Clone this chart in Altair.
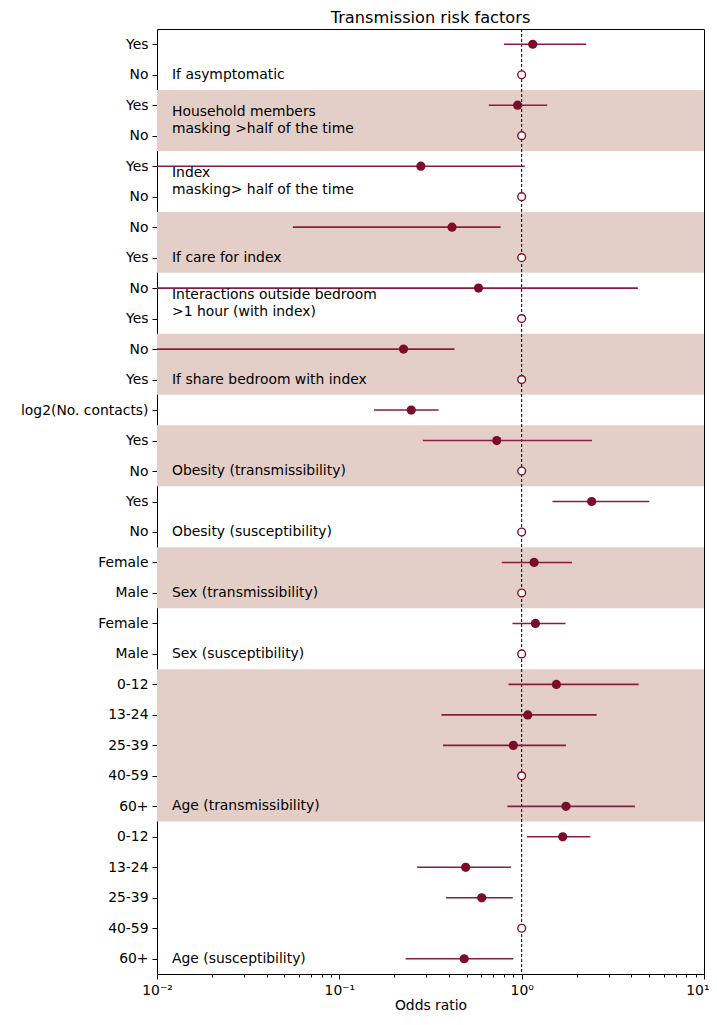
import altair as alt
import pandas as pd

# ---- data ----
row_labels = ["Yes", "No", "Yes", "No", "Yes", "No", "No", "Yes", "No", "Yes",
              "No", "Yes", "log2(No. contacts)", "Yes", "No", "Yes", "No",
              "Female", "Male", "Female", "Male",
              "0-12", "13-24", "25-39", "40-59", "60+",
              "0-12", "13-24", "25-39", "40-59", "60+"]
is_ref = [0, 1, 0, 1, 0, 1, 0, 1, 0, 1, 0, 1, 0, 0, 1, 0, 1, 0, 1, 0, 1,
          0, 0, 0, 1, 0, 0, 0, 0, 1, 0]
or_est = [1.15, 1.0, 0.95, 1.0, 0.28, 1.0, 0.415, 1.0, 0.58, 1.0,
          0.225, 1.0, 0.248, 0.73, 1.0, 2.42, 1.0, 1.17, 1.0, 1.19, 1.0,
          1.55, 1.08, 0.90, 1.0, 1.75, 1.68, 0.493, 0.604, 1.0, 0.484]
ci_low = [0.80, None, 0.66, None, 0.003, None, 0.0556, None, 0.003, None,
          0.003, None, 0.155, 0.287, None, 1.475, None, 0.778, None, 0.89, None,
          0.848, 0.363, 0.37, None, 0.836, 1.07, 0.267, 0.385, None, 0.231]
ci_high = [2.26, None, 1.38, None, 1.04, None, 0.767, None, 4.34, None,
           0.428, None, 0.35, 2.43, None, 5.01, None, 1.89, None, 1.74, None,
           4.38, 2.58, 1.75, None, 4.18, 2.38, 0.875, 0.895, None, 0.90]

group_labels = ["If asymptomatic",
                "Household members\nmasking >half of the time",
                "Index\nmasking> half of the time",
                "If care for index",
                "Interactions outside bedroom\n>1 hour (with index)",
                "If share bedroom with index",
                "Obesity (transmissibility)",
                "Obesity (susceptibility)",
                "Sex (transmissibility)",
                "Sex (susceptibility)",
                "Age (transmissibility)",
                "Age (susceptibility)"]
group_first = [0, 2, 4, 6, 8, 10, 13, 15, 17, 19, 21, 26]
group_last = [1, 3, 5, 7, 9, 11, 14, 16, 18, 20, 25, 30]
group_shaded = [False, True, False, True, False, True, True, False, True, False, True, False]

x_major = [0.01, 0.1, 1, 10]
x_major_labels = ["10\u207b\u00b2", "10\u207b\u00b9", "10\u2070", "10\u00b9"]
x_ticks = [k * 10.0 ** e for e in (-2, -1, 0) for k in range(1, 10)] + [10]
x_ticks = [round(v, 6) for v in x_ticks]
x_domain = [0.01, 10]

# ---- tables ----
n = len(row_labels)
df = pd.DataFrame({"row": list(range(n)), "label": row_labels, "est": or_est,
                   "lo": ci_low, "hi": ci_high, "ref": is_ref})
ci_df = df.dropna(subset=["lo"])
filled_df = df[df.ref == 0]
open_df = df[df.ref == 1]

bands = pd.DataFrame({
    "y1": [f - 0.5 for f, s in zip(group_first, group_shaded) if s],
    "y2": [l + 0.5 for l, s in zip(group_last, group_shaded) if s],
    "x1": x_domain[0], "x2": x_domain[1]})

lab_df = pd.DataFrame({
    "text": group_labels,
    "multi": ["\n" in t for t in group_labels],
    "ypos": [l - 0.5 if "\n" in t else l for t, l in zip(group_labels, group_last)]})
lab1_df = lab_df[~lab_df.multi]
lab2_df = lab_df[lab_df.multi]

ref_df = pd.DataFrame({"x": [1.0]})

FONT = "DejaVu Sans"
DARK = "#7b0d2a"
LINE = "#8a1d3d"
BAND = "#e3cfc8"
LH = 16.7

x_scale = alt.Scale(type="log", domain=x_domain, nice=False)
y_scale = alt.Scale(domain=[-0.5, n - 0.5], reverse=True, nice=False, zero=False)

y_label_expr = "[" + ",".join("'%s'" % s for s in row_labels) + "][datum.value]"
x_label_expr = " : ".join("datum.value == %s ? '%s'" % (v, s)
                          for v, s in zip(x_major, x_major_labels)) + " : ''"
major_test = "indexof([%s], datum.value) >= 0" % ",".join(str(v) for v in x_major)
last_test = "datum.value == %s" % x_major[-1]

x_axis = alt.Axis(values=x_ticks, labelExpr=x_label_expr, title="Odds ratio",
                  grid=False, domain=False, labelFontSize=13.9, titleFontSize=13.9,
                  titleFontWeight="normal", labelFont=FONT, titleFont=FONT,
                  labelColor="black", titleColor="black", tickColor="black",
                  tickSize={"condition": {"test": major_test, "value": 5}, "value": 3},
                  labelAlign={"condition": {"test": last_test, "value": "right"}, "value": "center"},
                  labelOffset={"condition": {"test": last_test, "value": 5}, "value": 0},
                  labelPadding=4, titlePadding=2, labelFlush=False, labelOverlap=False,
                  labelBound=False)
y_axis = alt.Axis(values=list(range(n)), labelExpr=y_label_expr, title=None,
                  grid=False, domain=False, labelFontSize=13.9, labelFont=FONT,
                  labelColor="black", tickColor="black", tickSize=5, labelPadding=4,
                  labelOverlap=False, labelFlush=False, labelBound=False)

band_layer = alt.Chart(bands).mark_rect(color=BAND).encode(
    x=alt.X("x1:Q", scale=x_scale, axis=x_axis),
    x2="x2:Q",
    y=alt.Y("y1:Q", scale=y_scale, axis=y_axis),
    y2="y2:Q")

ref_layer = alt.Chart(ref_df).mark_rule(color="black", strokeDash=[3, 2], strokeWidth=1).encode(
    x=alt.X("x:Q", scale=x_scale, axis=x_axis))

ci_layer = alt.Chart(ci_df).mark_rule(color=LINE, strokeWidth=1.6, clip=True).encode(
    x=alt.X("lo:Q", scale=x_scale, axis=x_axis),
    x2="hi:Q",
    y=alt.Y("row:Q", scale=y_scale, axis=y_axis))

filled_layer = alt.Chart(filled_df).mark_point(
    shape="circle", filled=True, size=85, color=DARK, opacity=1).encode(
    x=alt.X("est:Q", scale=x_scale, axis=x_axis),
    y=alt.Y("row:Q", scale=y_scale, axis=y_axis))

open_layer = alt.Chart(open_df).mark_point(
    shape="circle", filled=True, size=60, fill="white", stroke=DARK,
    strokeWidth=1.4, opacity=1).encode(
    x=alt.X("est:Q", scale=x_scale, axis=x_axis),
    y=alt.Y("row:Q", scale=y_scale, axis=y_axis))

text1_layer = alt.Chart(lab1_df).mark_text(
    align="left", baseline="middle", fontSize=13.9, font=FONT, color="black").encode(
    x=alt.value(15),
    y=alt.Y("ypos:Q", scale=y_scale, axis=y_axis),
    text="text:N")

text2_layer = alt.Chart(lab2_df).mark_text(
    align="left", baseline="middle", lineBreak="\n", lineHeight=LH, dy=-LH / 2,
    fontSize=13.9, font=FONT, color="black").encode(
    x=alt.value(15),
    y=alt.Y("ypos:Q", scale=y_scale, axis=y_axis),
    text="text:N")

chart = alt.layer(band_layer, ref_layer, ci_layer, text1_layer, text2_layer,
                  filled_layer, open_layer).properties(
    width=547, height=945,
    title=alt.TitleParams("Transmission risk factors", fontSize=16.2, fontWeight="normal",
                          font=FONT, color="black", offset=2),
    autosize=alt.AutoSizeParams(type="none"),
    padding={"left": 149, "top": 21, "right": 5, "bottom": 38},
).configure(font=FONT).configure_view(stroke="black", strokeWidth=1)

chart.save("out.html", embed_options={"renderer": "svg", "actions": False})
